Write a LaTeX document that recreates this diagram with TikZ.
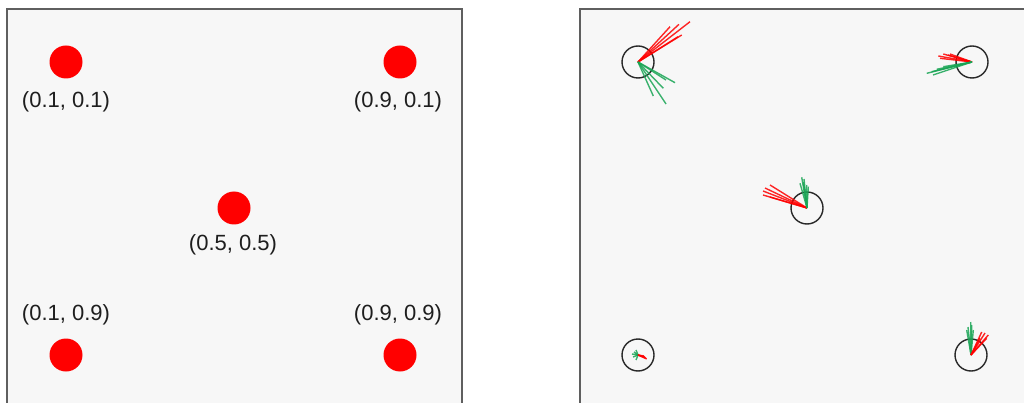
\documentclass[tikz,border=0pt]{standalone}
\usepackage{fontspec}
\setmainfont{Liberation Sans}
\definecolor{panelbg}{RGB}{247,247,247}
\definecolor{framegray}{RGB}{95,95,95}
\definecolor{ringgray}{RGB}{40,40,40}
\definecolor{labcol}{RGB}{30,30,30}
\definecolor{greenl}{RGB}{25,165,85}
\begin{document}
\begin{tikzpicture}[x=1pt,y=-1pt,
  panel/.style={fill=panelbg,draw=framegray,line width=1.5pt},
  dot/.style={circle,fill=red,minimum size=33pt,inner sep=0pt},
  ring/.style={circle,draw=ringgray,line width=1.4pt,minimum size=32pt,inner sep=0pt},
  lab/.style={font=\fontsize{22}{26}\selectfont,text=labcol,inner sep=0pt},
  rl/.style={draw=red,line width=1.4pt,opacity=0.85},
  gl/.style={draw=greenl,line width=1.4pt,opacity=0.85}]
\useasboundingbox (0,0) rectangle (1024,403);
\clip (0,0) rectangle (1024,403);
\fill[white] (0,0) rectangle (1024,403);
% panels
\draw[panel] (7,9) rectangle (462,420);
\draw[panel] (580,9) rectangle (1040,420);
% left panel
\node[dot] (d1) at (66,62) {};
\node[lab] (l1) at (66,102) {(0.1, 0.1)};
\node[dot] (d2) at (400,62) {};
\node[lab] (l2) at (398,102) {(0.9, 0.1)};
\node[dot] (d3) at (234,208) {};
\node[lab] (l3) at (233,245) {(0.5, 0.5)};
\node[lab] (l4) at (66,315) {(0.1, 0.9)};
\node[dot] (d4) at (66,355) {};
\node[lab] (l5) at (398,315) {(0.9, 0.9)};
\node[dot] (d5) at (400,355) {};
% right panel
\node[ring] (r1) at (638,62) {};
\node[ring] (r2) at (972,62) {};
\node[ring] (r3) at (807,208) {};
\node[ring] (r4) at (638,355) {};
\node[ring] (r5) at (971,355) {};
% rays
\foreach \x/\y in {690/21.7,679/24.3,670/26.7,681.7/35,678/36.7}
  \draw[rl] (r1.center) -- (\x,\y);
\foreach \x/\y in {675/82.7,666/80,663.3/88.3,653.3/96,666/104}
  \draw[gl] (r1.center) -- (\x,\y);
\foreach \x/\y in {938.3/56,943.3/54,948/55,940/58.3,950/54}
  \draw[rl] (r2.center) -- (\x,\y);
\foreach \x/\y in {926.7/73.3,931.7/71.7,936.7/69.3,943.3/66.7,933/75}
  \draw[gl] (r2.center) -- (\x,\y);
\foreach \x/\y in {763/191,765/188,770/185,763/195,770/197}
  \draw[rl] (r3.center) -- (\x,\y);
\foreach \x/\y in {801.7/177.3,803.3/181.7,806.7/185,800/183.3,808.3/186.7,804/179}
  \draw[gl] (r3.center) -- (\x,\y);
\foreach \x/\y in {632/354,636/350,636/360,633/357,634/352}
  \draw[gl] (r4.center) -- (\x,\y);
\foreach \x/\y in {646.7/359,645/357,644/356,646/358}
  \draw[rl] (r4.center) -- (\x,\y);
\foreach \x/\y in {970.7/322,971.7/325,966.7/330,973.3/330,968/327}
  \draw[gl] (r5.center) -- (\x,\y);
\foreach \x/\y in {988.3/335,985/333,981.7/332,986.7/338.3,980/338.3}
  \draw[rl] (r5.center) -- (\x,\y);
\end{tikzpicture}
\end{document}
